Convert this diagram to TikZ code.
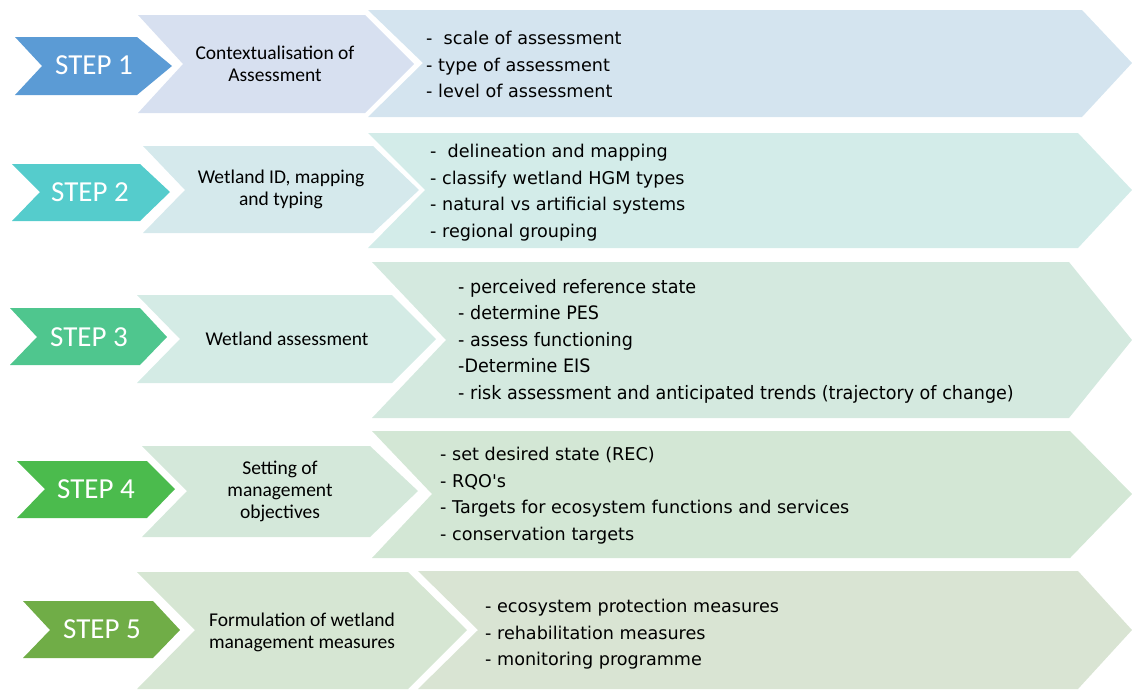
\documentclass[tikz,border=0pt]{standalone}
\usepackage{fontspec}
\setmainfont{Carlito}
\newfontfamily\verdfont{DejaVu Sans}
\newfontfamily\tahfont[FakeStretch=0.95]{DejaVu Sans}
\definecolor{stepone}{HTML}{5B9BD5}
\definecolor{steptwo}{HTML}{55CCCC}
\definecolor{stepthree}{HTML}{4FC68E}
\definecolor{stepfour}{HTML}{4BBB4D}
\definecolor{stepfive}{HTML}{70AD47}
\definecolor{midone}{HTML}{D7E0F0}
\definecolor{midtwo}{HTML}{D5E9EC}
\definecolor{midthree}{HTML}{D4EBE5}
\definecolor{midfour}{HTML}{D4E8DA}
\definecolor{midfive}{HTML}{D6E6D3}
\definecolor{listone}{HTML}{D4E4EF}
\definecolor{listtwo}{HTML}{D3ECE9}
\definecolor{listthree}{HTML}{D4E9DF}
\definecolor{listfour}{HTML}{D3E7D5}
\definecolor{listfive}{HTML}{D9E4D3}
\begin{document}
\begin{tikzpicture}[x=1pt,y=-1pt,
    steplabel/.style={text=white,inner sep=0pt,font=\fontsize{29}{29}\selectfont},
    midtext/.style={align=center,inner sep=0pt,font=\fontsize{19.5}{22}\selectfont},
    listtext/.style={anchor=west,align=left,inner sep=0pt,font=\verdfont\fontsize{17.6}{26.5}\selectfont}]
    \useasboundingbox (0,0) rectangle (1132,691);

    % step chevrons
    \fill[stepone] (15,37) -- (137,37) -- (172,66) -- (137,95) -- (15,95) -- (42,66) -- cycle;
    \fill[steptwo] (12,164) -- (140,164) -- (170,192) -- (140,221) -- (12,221) -- (40,192) -- cycle;
    \fill[stepthree] (10,308) -- (140,308) -- (167,337) -- (140,365) -- (10,365) -- (37,337) -- cycle;
    \fill[stepfour] (17,461) -- (147,461) -- (175,489) -- (147,518) -- (17,518) -- (45,489) -- cycle;
    \fill[stepfive] (23,601) -- (153,601) -- (180,630) -- (153,658) -- (23,658) -- (50,630) -- cycle;

    % middle chevrons
    \fill[midone] (138,15) -- (365,15) -- (414,64) -- (365,113) -- (138,113) -- (183,64) -- cycle;
    \fill[midtwo] (143,146) -- (373,146) -- (419,190) -- (373,233) -- (143,233) -- (185,190) -- cycle;
    \fill[midthree] (137,295) -- (392,295) -- (436,339) -- (392,383) -- (137,383) -- (180,339) -- cycle;
    \fill[midfour] (142,446) -- (370,446) -- (418,491) -- (370,537) -- (142,537) -- (187,491) -- cycle;
    \fill[midfive] (137,572) -- (408,572) -- (467,630) -- (408,689) -- (137,689) -- (195,630) -- cycle;

    % list chevrons
    \fill[listone] (368,10) -- (1082,10) -- (1132,63) -- (1082,117) -- (368,117) -- (423,63) -- cycle;
    \fill[listtwo] (368,133) -- (1078,133) -- (1132,190) -- (1078,248) -- (368,248) -- (425,190) -- cycle;
    \fill[listthree] (372,262) -- (1069,262) -- (1132,340) -- (1069,418) -- (372,418) -- (446,340) -- cycle;
    \fill[listfour] (372,431) -- (1070,431) -- (1132,494) -- (1070,558) -- (372,558) -- (432,494) -- cycle;
    \fill[listfive] (418,571) -- (1078,571) -- (1132,630) -- (1078,689) -- (418,689) -- (478,630) -- cycle;

    % step labels
    \node[steplabel] (stepA) at (94,65) {STEP 1};
    \node[steplabel] (stepB) at (90,192) {STEP 2};
    \node[steplabel] (stepC) at (89,337) {STEP 3};
    \node[steplabel] (stepD) at (96,489) {STEP 4};
    \node[steplabel] (stepE) at (102,629) {STEP 5};

    % middle texts
    \node[midtext] (midA) at (275,64) {Contextualisation of\\Assessment};
    \node[midtext] (midB) at (281,189) {Wetland ID, mapping\\and typing};
    \node[midtext] (midC) at (287,339) {Wetland assessment};
    \node[midtext] (midD) at (280,491) {Setting of\\management\\objectives};
    \node[midtext,align=left] (midE) at (302,632) {Formulation of wetland\\management measures};

    % lists
    \node[listtext] (listA) at (426,64.5) {-~ scale of assessment\\- type of assessment\\- level of assessment};
    \node[listtext] (listB) at (430,192.5) {-~ delineation and mapping\\- classify wetland HGM types\\- natural vs artificial systems\\- regional grouping};
    \node[listtext,font=\tahfont\fontsize{18.5}{26.5}\selectfont] (listC) at (458,341) {- perceived reference state\\- determine PES\\- assess functioning\\-Determine EIS\\- risk assessment and anticipated trends (trajectory of change)};
    \node[listtext] (listD) at (440,495.5) {- set desired state (REC)\\- RQO's\\- Targets for ecosystem functions and services\\- conservation targets};
    \node[listtext] (listE) at (485,634.5) {- ecosystem protection measures\\- rehabilitation measures\\- monitoring programme};
\end{tikzpicture}
\end{document}
